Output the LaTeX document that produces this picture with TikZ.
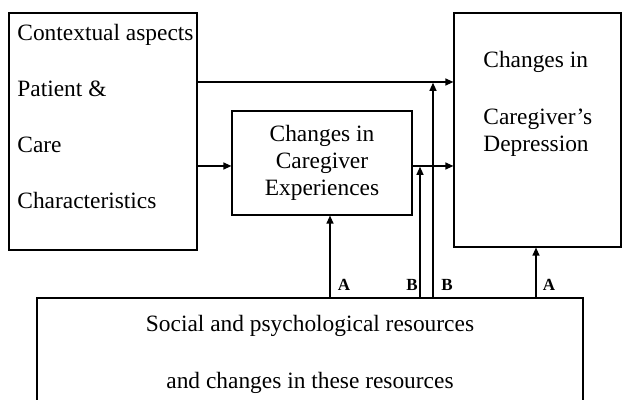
\documentclass[tikz,border=0pt]{standalone}
\usepackage{fontspec}
\setmainfont{Liberation Serif}
\usetikzlibrary{arrows.meta}
\begin{document}
\begin{tikzpicture}[x=0.5pt, y=-0.5pt, box/.style={draw, line width=0.6pt, inner sep=0pt, align=center, font=\fontsize{11.7}{13.5}\selectfont}, txt/.style={align=left, inner sep=0pt, font=\fontsize{11.7}{13.5}\selectfont}, lbl/.style={inner sep=0pt, font=\fontsize{8.5}{10}\selectfont\bfseries}, arr/.style={-{Triangle[length=4pt, width=3.5pt]}, line width=0.6pt}]
	\useasboundingbox (0,0) rectangle (623,400);
	\clip (0,0) rectangle (623,400);
	\node[box, minimum width=94pt, minimum height=118.5pt] (K) at (103,131.5) {};
	\node[box, minimum width=90pt, minimum height=52pt] (E) at (322,163) {Changes in\\Caregiver\\Experiences};
	\node[box, minimum width=83.5pt, minimum height=117pt] (D) at (537.5,130) {};
	\node[box, minimum width=273pt, minimum height=56pt] (R) at (310,354) {Social and psychological resources\\[15pt]and changes in these resources};
	\node[txt, anchor=west] (Kt) at (17,116.5) {Contextual aspects\\[14.5pt]Patient \&\\[14.5pt]Care\\[14.5pt]Characteristics};
	\node[txt, anchor=west] (Dt) at (483,103.5) {Changes in\\[15pt]Caregiver's\\Depression};
	\coordinate (r1) at (0,82);
	\coordinate (r2) at (0,166);
	\coordinate (a1) at (330,0);
	\coordinate (b1) at (420,0);
	\coordinate (b2) at (433,0);
	\coordinate (a2) at (536,0);
	\draw[arr] (K.east |- r1) -- (D.west |- r1);
	\draw[arr] (K.east |- r2) -- (E.west |- r2);
	\draw[arr] (E.east |- r2) -- (D.west |- r2);
	\draw[arr] (R.north -| a1) -- (E.south -| a1);
	\draw[arr, shorten >=0.4pt] (R.north -| b1) -- (b1 |- r2);
	\draw[arr, shorten >=0.4pt] (R.north -| b2) -- (b2 |- r1);
	\draw[arr] (R.north -| a2) -- (D.south -| a2);
	\node[lbl] (la1) at (344,285) {A};
	\node[lbl] (lb1) at (412,285) {B};
	\node[lbl] (lb2) at (447,285) {B};
	\node[lbl] (la2) at (549,285) {A};
\end{tikzpicture}
\end{document}
